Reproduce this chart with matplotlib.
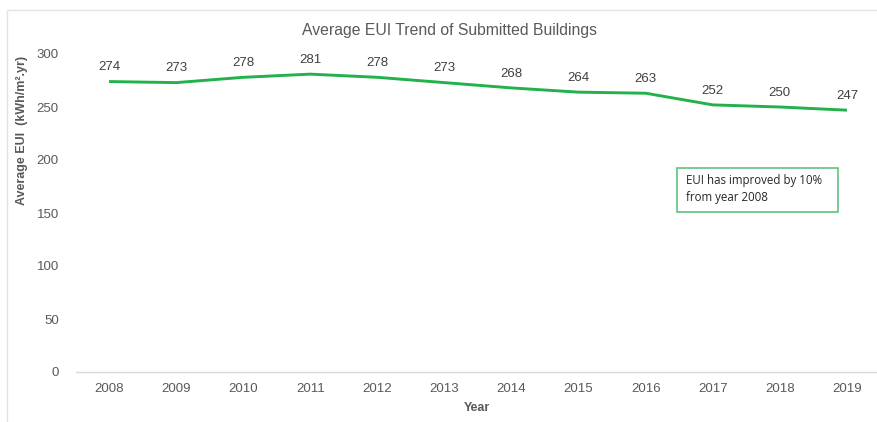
import matplotlib
matplotlib.use("Agg")
import matplotlib.pyplot as plt
from matplotlib.patches import Rectangle

years = ["2008", "2009", "2010", "2011", "2012", "2013", "2014", "2015", "2016", "2017", "2018", "2019"]
eui = [274, 273, 278, 281, 278, 273, 268, 264, 263, 252, 250, 247]
yticks = [0, 50, 100, 150, 200, 250, 300]

W, H = 878, 422
plt.rcParams['font.family'] = ['Liberation Sans', 'DejaVu Sans']
fig = plt.figure(figsize=(W / 100, H / 100), dpi=100)

# outer chart border
fig.patches.append(Rectangle((7 / W, -0.1), 1.2, 1 - 10 / H + 0.1, transform=fig.transFigure,
                             fill=False, edgecolor="#e3e3e3", linewidth=1.0))

left_px, right_px = 75.5, 880.5
top_px, bot_px = 54, 372
ax = fig.add_axes([left_px / W, 1 - bot_px / H, (right_px - left_px) / W, (bot_px - top_px) / H])
x = list(range(len(years)))
ax.plot(x, eui, color="#22b24c", linewidth=2.1, solid_capstyle="butt", clip_on=False)
ax.set_xlim(-0.5, len(years) - 0.5)
ax.set_ylim(0, 300)
ax.set_yticks(yticks)
ax.set_yticklabels([str(v) for v in yticks])
ax.set_xticks(x)
ax.set_xticklabels(years)
for s in ["top", "right", "left"]:
    ax.spines[s].set_visible(False)
ax.spines["bottom"].set_color("#d9d9d9")
ax.spines["bottom"].set_linewidth(1.0)
ax.tick_params(axis="both", length=0, labelsize=9.5, labelcolor="#595959")
ax.tick_params(axis="y", pad=12)
ax.tick_params(axis="x", pad=8)
ax.patch.set_alpha(0)

for xi, v in zip(x, eui):
    ax.annotate(str(v), (xi, v), xytext=(0, 6), textcoords="offset points",
                ha="center", va="bottom", fontsize=9.5, color="#404040")

fig.text(450 / W, 1 - 30 / H, "Average EUI Trend of Submitted Buildings", ha="center", va="center",
         fontsize=11.3, color="#595959")
fig.text(477 / W, 1 - 408 / H, "Year", ha="center", va="center", fontsize=9, color="#595959",
         fontweight="bold")
fig.text(22 / W, 1 - 130 / H, "Average EUI  (kWh/m\u00b2.yr)", ha="center", va="center", rotation=90,
         fontsize=9, color="#595959", fontweight="bold")

# annotation box
bx0, by0, bx1, by1 = 677, 168, 838, 212
fig.patches.append(Rectangle((bx0 / W, 1 - by1 / H), (bx1 - bx0) / W, (by1 - by0) / H,
                             transform=fig.transFigure, fill=True, facecolor="white",
                             edgecolor="#5cc57a", linewidth=1.2))
fig.text(686 / W, 1 - 189 / H, "EUI has improved by 10%\nfrom year 2008", ha="left", va="center",
         fontsize=8.3, color="#262626", family=["Open Sans", "DejaVu Sans"], linespacing=1.4)

fig.savefig("out.png", dpi=100)
